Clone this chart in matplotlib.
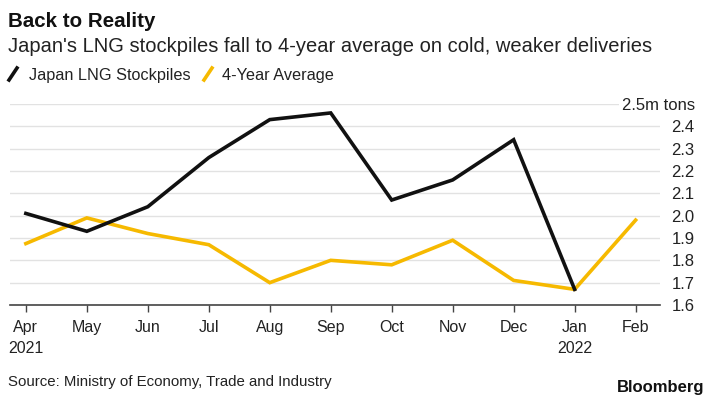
import matplotlib
matplotlib.use('Agg')
import matplotlib.pyplot as plt
from matplotlib.lines import Line2D

plt.rcParams['font.family'] = ['Liberation Sans', 'DejaVu Sans']

months = ['Apr\n2021', 'May', 'Jun', 'Jul', 'Aug', 'Sep', 'Oct', 'Nov', 'Dec', 'Jan\n2022', 'Feb']
stockpiles = [2.01, 1.93, 2.04, 2.26, 2.43, 2.46, 2.07, 2.16, 2.34, 1.67]
avg4y = [1.875, 1.99, 1.92, 1.87, 1.70, 1.80, 1.78, 1.89, 1.71, 1.67, 1.98]
yticks = [1.6, 1.7, 1.8, 1.9, 2.0, 2.1, 2.2, 2.3, 2.4, 2.5]
ylabels = ['1.6', '1.7', '1.8', '1.9', '2.0', '2.1', '2.2', '2.3', '2.4', '2.5m tons']

black = '#111111'
yellow = '#f6b900'

W, H = 710, 399
fig = plt.figure(figsize=(W / 100, H / 100), dpi=100)
ax = fig.add_axes([10 / W, 1 - 305 / H, 650 / W, 201 / H])

x = list(range(len(months)))
ax.plot(x[:len(stockpiles)], stockpiles, color=black, lw=2.6, solid_joinstyle='miter', zorder=3)
ax.plot(x, avg4y, color=yellow, lw=2.6, solid_joinstyle='miter', zorder=2)

ax.set_xlim(-0.26, 10.4)
ax.set_ylim(1.6, 2.5)
ax.set_xticks(x)
ax.set_xticklabels(months, fontsize=11.5, linespacing=1.5, color='#222222')
ax.tick_params(axis='x', length=5, width=1, color='#444444', pad=6)

ax.yaxis.tick_right()
ax.set_yticks(yticks)
ax.set_yticklabels(ylabels, fontsize=12, color='#222222')
ax.tick_params(axis='y', length=0, pad=25)
for lab in ax.get_yticklabels():
    lab.set_horizontalalignment('right')
ax.get_yticklabels()[-1].set_bbox(dict(facecolor='white', edgecolor='none', pad=2))

ax.grid(axis='y', color='#e2e2e2', lw=1)
ax.set_axisbelow(True)
for s in ['top', 'left', 'right']:
    ax.spines[s].set_visible(False)
ax.spines['bottom'].set_color('#444444')
ax.spines['bottom'].set_linewidth(1.2)
ax.spines['bottom'].set_zorder(1)

fig.text(8 / W, 1 - 27 / H, 'Back to Reality', fontsize=14.8, fontweight='bold', color='#111111')
fig.text(8 / W, 1 - 52 / H, "Japan's LNG stockpiles fall to 4-year average on cold, weaker deliveries",
         fontsize=14.5, color='#222222')

# legend with slanted swatches
fig.add_artist(Line2D([9 / W, 17 / W], [1 - 80 / H, 1 - 68 / H], color=black, lw=2.6))
fig.text(29 / W, 1 - 80 / H, 'Japan LNG Stockpiles', fontsize=11.7, color='#222222')
fig.add_artist(Line2D([204 / W, 212 / W], [1 - 80 / H, 1 - 68 / H], color=yellow, lw=2.6))
fig.text(222 / W, 1 - 80 / H, '4-Year Average', fontsize=11.7, color='#222222')

fig.text(8 / W, 1 - 386 / H, 'Source: Ministry of Economy, Trade and Industry', fontsize=10.8, color='#222222')
fig.text(704 / W, 1 - 392 / H, 'Bloomberg', fontsize=12, fontweight='bold', color='#111111', ha='right')

fig.savefig('out.png', dpi=100, facecolor='white')
